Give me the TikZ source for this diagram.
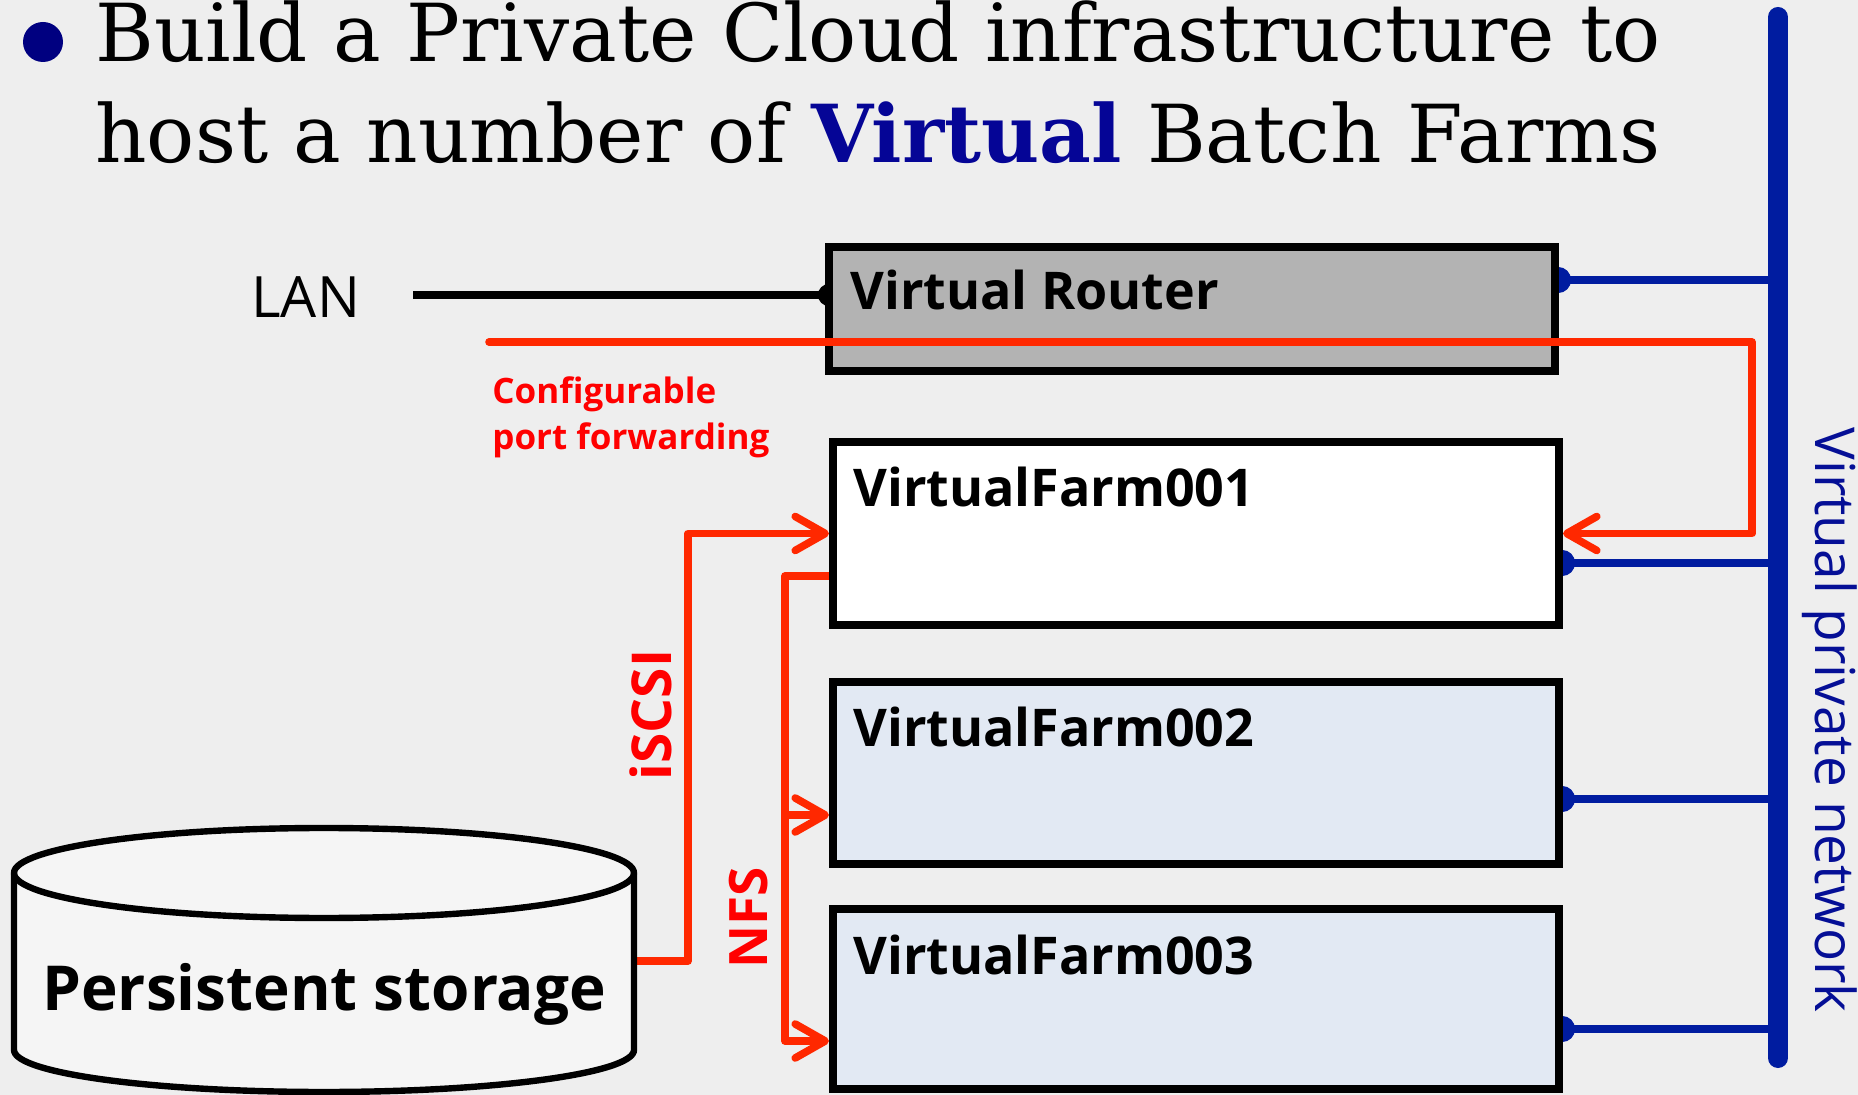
\documentclass[tikz,border=0pt]{standalone}
\usepackage{fontspec}
\newfontfamily\titlefont{DejaVu Serif}
\newfontfamily\handfont{Open Sans}
\usetikzlibrary{arrows.meta,calc}

\definecolor{pagebg}{RGB}{238,238,238}
\definecolor{bulletblue}{RGB}{0,0,128}
\definecolor{titleblue}{RGB}{5,5,150}
\definecolor{vpnblue}{RGB}{0,28,160}
\definecolor{vpntext}{RGB}{5,15,150}
\definecolor{fwdred}{RGB}{255,40,0}
\definecolor{labelred}{RGB}{255,0,0}
\definecolor{routergray}{RGB}{179,179,179}
\definecolor{farmfill}{RGB}{226,233,243}
\definecolor{diskfill}{RGB}{245,245,245}

\pgfdeclarelayer{backdrop}
\pgfdeclarelayer{wires}
\pgfsetlayers{backdrop,wires,main}

\begin{document}
\begin{tikzpicture}[x=0.5pt,y=-0.5pt,
  hostbox/.style={draw=black, line width=4pt, minimum width=363pt, inner sep=0pt},
  boxlabel/.style={anchor=base west, inner sep=0pt,
    font=\handfont\bfseries\fontsize{26pt}{31pt}\selectfont},
  titleline/.style={anchor=base west, inner sep=0pt,
    font=\titlefont\fontsize{40pt}{48pt}\selectfont},
  redlabel/.style={inner sep=0pt, text=labelred},
  fwd/.style={draw=fwdred, line width=3.8pt, line join=round, line cap=round},
  fwdarrow/.style={fwd, -{Straight Barb[length=15pt,width=17pt,round]}},
  vlink/.style={draw=vpnblue, line width=4pt, -{Circle[length=13pt]}, shorten >=-7pt},
  lanlink/.style={draw=black, line width=4pt, -{Circle[length=11pt]}, shorten >=-7.5pt},
  disk/.style={draw=black, line width=3.2pt, line join=round}
]
\useasboundingbox (0,0) rectangle (1858,1095);
\begin{pgfonlayer}{backdrop}
  \fill[pagebg] (0,0) rectangle (1858,1095);
\end{pgfonlayer}

% heading
\node[circle, fill=bulletblue, minimum size=20pt, inner sep=0pt] (bullet) at (43,42) {};
\node[titleline] (head1) at (95,62) {Build a Private Cloud infrastructure to};
\node[titleline] (head2) at (95,163) {host a number of {\bfseries\color{titleblue}Virtual} Batch Farms};

% router and virtual farms
\node[hostbox, fill=routergray, minimum height=62pt] (router) at (1192,309) {};
\node[hostbox, fill=white, minimum height=91.5pt] (f1) at (1196,533.5) {};
\node[hostbox, fill=farmfill, minimum height=91pt] (f2) at (1196,773) {};
\node[hostbox, fill=farmfill, minimum height=90pt] (f3) at (1196,999) {};

\node[boxlabel] (routerlbl) at (850,310) {Virtual Router};
\node[boxlabel] (f1lbl) at (853,507) {VirtualFarm001};
\node[boxlabel] (f2lbl) at (853,747) {VirtualFarm002};
\node[boxlabel] (f3lbl) at (853,974) {VirtualFarm003};

% persistent storage cylinder
\node[inner sep=0pt, outer sep=0pt, minimum width=313pt, minimum height=135pt] (store) at (324,960) {};
\path[disk, fill=diskfill] (14,873) -- (14,1050)
  arc[start angle=180, end angle=360, x radius=155pt, y radius=21pt] -- (634,873)
  arc[start angle=0, end angle=180, x radius=155pt, y radius=22.5pt] -- cycle;
\draw[disk] (14,873) arc[start angle=180, end angle=360, x radius=155pt, y radius=22.5pt];
\node[anchor=base west, inner sep=0pt, font=\handfont\bfseries\fontsize{31pt}{37pt}\selectfont]
  (storelbl) at (42,1010) {Persistent storage};

% LAN uplink
\node[anchor=base west, inner sep=0pt, font=\handfont\fontsize{28.5pt}{34pt}\selectfont] (lan) at (251,318) {LAN};
\coordinate (lanStart) at (413,295);
\begin{pgfonlayer}{wires}
  \draw[lanlink] (lanStart) -- (lanStart -| router.west);
\end{pgfonlayer}

% virtual private network bus
\coordinate (busTop) at (1778,17);
\coordinate (busBot) at (1778,1058);
\coordinate (vR) at (1778,280);
\coordinate (v1) at (1778,563);
\coordinate (v2) at (1778,799);
\coordinate (v3) at (1778,1029);
\begin{pgfonlayer}{wires}
  \draw[draw=vpnblue, line width=10pt, line cap=round] (busTop) -- (busBot);
  \draw[vlink] (vR) -- (vR -| router.east);
  \draw[vlink] (v1) -- (v1 -| f1.east);
  \draw[vlink] (v2) -- (v2 -| f2.east);
  \draw[vlink] (v3) -- (v3 -| f3.east);
\end{pgfonlayer}
\node[rotate=-90, anchor=base west, inner sep=0pt, text=vpntext,
  font=\handfont\fontsize{27.5pt}{33pt}\selectfont] (vpn) at (1815,427) {Virtual private network};

% port forwarding through the router
\coordinate (fwdStart) at (489,342);
\coordinate (fwdCorner) at (1752,342);
\draw[fwdarrow] (fwdStart) -- (fwdCorner) |- (f1.east);
\node[redlabel, anchor=base west, font=\handfont\bfseries\fontsize{17.5pt}{21pt}\selectfont] (conf1) at (492,404) {Configurable};
\node[redlabel, anchor=base west, font=\handfont\bfseries\fontsize{17.5pt}{21pt}\selectfont] (conf2) at (492,450) {port forwarding};

% iSCSI and NFS paths
\coordinate (iscsiLow) at (688,961);
\coordinate (nfsTop) at (785,576);
\coordinate (nfsMid) at (785,815);
\coordinate (nfsLow) at (785,1041);
\begin{pgfonlayer}{wires}
  \draw[fwdarrow] (iscsiLow -| store.east) -- (iscsiLow) |- (f1.west);
  \draw[fwdarrow] (nfsTop -| f1.west) -- (nfsTop) |- (nfsLow -| f3.west);
  \draw[fwdarrow] (nfsMid) -- (nfsMid -| f2.west);
\end{pgfonlayer}
\node[redlabel, rotate=90, font=\handfont\bfseries\fontsize{27.5pt}{33pt}\selectfont] (iscsi) at (651,715) {iSCSI};
\node[redlabel, rotate=90, font=\handfont\bfseries\fontsize{26.5pt}{32pt}\selectfont] (nfs) at (749,918) {NFS};
\end{tikzpicture}
\end{document}
